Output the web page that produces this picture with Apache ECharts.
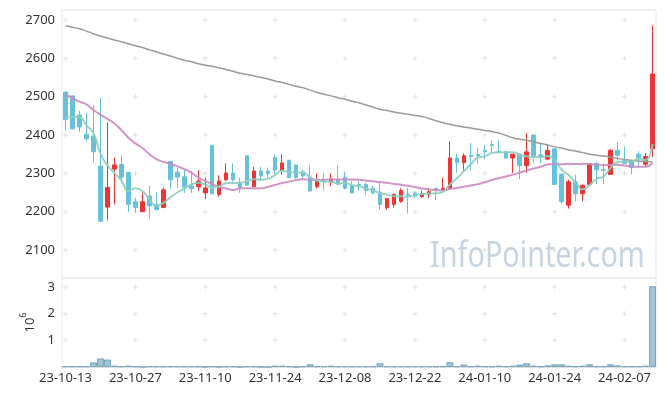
<!DOCTYPE html>
<html><head><meta charset="utf-8">
<script src="https://cdn.jsdelivr.net/npm/echarts@6/dist/echarts.min.js"></script>
<style>html,body{margin:0;padding:0;background:#fff}#c{width:665px;height:396px}</style>
</head><body><div id="c"></div>
<script>
const dates = ['23-10-13','23-10-16','23-10-17','23-10-18','23-10-19','23-10-20','23-10-23','23-10-24','23-10-25','23-10-26',
'23-10-27','23-10-30','23-10-31','23-11-01','23-11-02','23-11-03','23-11-06','23-11-07','23-11-08','23-11-09',
'23-11-10','23-11-13','23-11-14','23-11-15','23-11-16','23-11-17','23-11-20','23-11-21','23-11-22','23-11-23',
'23-11-24','23-11-27','23-11-28','23-11-29','23-11-30','23-12-01','23-12-04','23-12-05','23-12-06','23-12-07',
'23-12-08','23-12-11','23-12-12','23-12-13','23-12-14','23-12-15','23-12-18','23-12-19','23-12-20','23-12-21',
'23-12-22','23-12-26','23-12-27','23-12-28','24-01-02','24-01-03','24-01-04','24-01-05','24-01-08','24-01-09',
'24-01-10','24-01-11','24-01-12','24-01-15','24-01-16','24-01-17','24-01-18','24-01-19','24-01-22','24-01-23',
'24-01-24','24-01-25','24-01-26','24-01-29','24-01-30','24-01-31','24-02-01','24-02-02','24-02-05','24-02-06',
'24-02-07','24-02-08','24-02-13','24-02-14','24-02-15'];

const openVals = [2512,2502,2452,2402,2397,2319,2212,2311,2323,2302,
2226,2200,2241,2219,2211,2331,2303,2291,2267,2265,
2249,2373,2245,2283,2301,2276,2346,2265,2306,2306,
2341,2309,2334,2322,2304,2290,2265,2282,2278,2284,
2290,2269,2271,2271,2261,2251,2210,2219,2227,2246,
2249,2239,2245,2261,2255,2260,2340,2328,2347,2349,
2360,2375,2358,2356,2340,2350,2320,2400,2348,2337,
2364,2298,2217,2278,2247,2271,2325,2310,2297,2360,
2333,2333,2350,2324,2364];
const closeVals = [2440,2416,2421,2390,2356,2175,2263,2322,2290,2219,
2211,2226,2215,2205,2257,2283,2290,2264,2260,2280,
2262,2247,2280,2301,2283,2264,2269,2306,2293,2299,
2309,2327,2289,2289,2293,2254,2280,2278,2285,2271,
2261,2249,2267,2255,2249,2219,2234,2245,2255,2243,
2240,2247,2252,2255,2261,2340,2328,2346,2344,2346,
2357,2373,2356,2340,2350,2320,2356,2345,2344,2360,
2271,2226,2278,2247,2269,2325,2309,2308,2360,2347,
2326,2315,2341,2344,2559];
const lowVals = [2412,2414,2408,2384,2329,2173,2177,2219,2276,2199,
2199,2200,2182,2204,2209,2259,2263,2249,2249,2254,
2233,2245,2239,2280,2278,2249,2267,2264,2280,2289,
2297,2297,2288,2286,2284,2253,2260,2255,2267,2269,
2258,2249,2255,2245,2245,2205,2205,2211,2223,2196,
2236,2236,2236,2230,2255,2258,2302,2305,2308,2326,
2337,2352,2352,2338,2301,2285,2301,2327,2326,2336,
2270,2221,2208,2227,2227,2270,2272,2272,2296,2333,
2325,2297,2313,2318,2342];
const highVals = [2512,2502,2463,2457,2478,2496,2433,2342,2347,2303,
2237,2250,2268,2250,2263,2332,2314,2311,2306,2308,
2289,2373,2295,2326,2326,2289,2346,2317,2317,2315,
2350,2350,2334,2322,2310,2321,2300,2300,2300,2321,
2304,2280,2280,2276,2267,2276,2236,2247,2261,2261,
2254,2254,2261,2261,2289,2384,2351,2352,2379,2367,
2374,2386,2387,2360,2351,2351,2405,2401,2376,2375,
2365,2299,2283,2296,2271,2325,2331,2326,2364,2382,
2370,2333,2357,2353,2686];

const ma5 = [2443,2447,2446,2425,2404.6,2351.6,2321,2301.2,2281.2,2253.8,
2261,2253.6,2232.2,2215.2,2222.8,2237.2,2250,2259.8,2270.8,2275.4,
2271.2,2262.6,2265.8,2274,2274.6,2275,2279.4,2284.6,2283,2286.2,
2295.2,2306.8,2303.4,2302.6,2301.4,2290.4,2281,2278.8,2278,2273.6,
2275,2268.8,2266.6,2260.6,2256.2,2247.8,2244.8,2240.4,2240.4,2239.2,
2243.4,2246,2247.4,2247.4,2251,2271,2287.2,2306,2323.8,2340.8,
2344.2,2353.2,2355.2,2354.4,2355.2,2347.8,2344.4,2342.2,2343,2345,
2335.2,2309.2,2295.8,2276.4,2258.2,2269,2285.6,2291.6,2314.2,2329.8,
2330,2331.2,2337.8,2334.6,2377];
const ma20 = [2505,2496,2487,2480,2465,2453,2442,2430,2413,2393,
2378,2366,2350,2337,2330,2325,2318,2311,2302,2289.2,
2280.3,2271.8,2264.8,2260.3,2256.7,2261.1,2261.4,2260.6,2260.8,2264.8,
2269.7,2274.7,2278.4,2282.6,2284.4,2283,2282.5,2283.2,2284.4,2284,
2283.9,2284,2283.4,2281.1,2279.4,2277.1,2275.4,2272.3,2270.4,2267.6,
2264.2,2260.2,2258.3,2256.6,2255,2259.3,2261.7,2265.1,2268.1,2271.8,
2276.6,2282.8,2287.3,2291.5,2296.6,2301.6,2307.7,2312.7,2317.2,2323,
2324.6,2323.5,2324.8,2324.4,2324.8,2324.1,2323.1,2321.2,2322,2322.1,
2320.5,2317.6,2316.9,2317.1,2327.5];
const maLong = [2684,2681,2677,2671,2664,2658,2653,2648,2643,2638,
2633,2628,2622,2617,2611,2606,2600,2595,2591,2586,
2582,2579,2575,2571,2566,2561,2558,2554,2550,2546,
2541,2537,2532,2527,2523,2517,2511,2506,2502,2497,
2493,2488,2484,2478,2473,2467,2464,2460,2457,2454,
2451,2448,2443,2437,2432,2428,2424,2421,2418,2415,
2412,2409,2405,2399,2393,2389,2386,2382,2378,2374,
2369,2366,2361,2358,2354,2350,2347,2345,2342,2339,
2336,2334,2332,2331,2330];

const volumes = [30000,30000,30000,30000,170000,320000,280000,50000,30000,50000,
30000,3000,30000,30000,30000,30000,30000,30000,30000,30000,
3000,30000,3000,30000,30000,3000,30000,30000,3000,3000,
50000,50000,30000,3000,30000,100000,30000,30000,50000,30000,
30000,30000,30000,30000,30000,140000,30000,30000,30000,30000,
30000,30000,30000,30000,30000,180000,30000,90000,30000,50000,
30000,30000,50000,30000,50000,90000,140000,50000,30000,60000,
100000,100000,50000,30000,50000,100000,30000,30000,100000,60000,
30000,30000,30000,50000,3030000];

const priceTicks = [2100,2200,2300,2400,2500,2600,2700];
const volumeTicks = [1000000,2000000,3000000];
const labelStep = 10;

const xTickIdx = dates.map((d,i)=>i).filter(i => i % labelStep === 0);
const crossPath = 'path://M2,0H3V2H5V3H3V5H2V3H0V2H2Z';
const priceCross = [];
xTickIdx.forEach(i => priceTicks.forEach(t => priceCross.push([i, t])));
const volCross = [];
xTickIdx.forEach(i => volumeTicks.forEach(t => volCross.push([i, t])));

const FONT = 'Noto Sans';
const chart = echarts.init(document.getElementById('c'), null, {renderer:'canvas'});
chart.setOption({
  animation: false,
  backgroundColor: '#ffffff',
  grid: [
    {left: 62, right: 9, top: 10, height: 268, show: true, borderColor: '#e6e6e6', borderWidth: 1, backgroundColor: 'transparent'},
    {left: 62, right: 9, top: 278, height: 89, show: true, borderColor: '#e6e6e6', borderWidth: 1, backgroundColor: 'transparent'}
  ],
  xAxis: [
    {type: 'category', gridIndex: 0, data: dates, boundaryGap: true,
     axisLine: {show: false}, axisTick: {show: false}, axisLabel: {show: false}, splitLine: {show: false}},
    {type: 'category', gridIndex: 1, data: dates, boundaryGap: true,
     axisLine: {show: true, lineStyle: {color: '#e0e0e0'}}, axisTick: {show: false}, splitLine: {show: false},
     axisLabel: {interval: labelStep - 1, fontSize: 13, fontFamily: FONT, color: '#333', margin: 5}}
  ],
  yAxis: [
    {type: 'value', gridIndex: 0, min: 2027, max: 2726, scale: true,
     axisLine: {show: false}, axisTick: {show: false}, splitLine: {show: false},
     axisLabel: {fontSize: 13, fontFamily: FONT, color: '#333', margin: 7, showMinLabel: false, showMaxLabel: false,
       formatter: v => priceTicks.indexOf(v) >= 0 ? String(v) : ''}},
    {type: 'value', gridIndex: 1, min: 0, max: 3337000, interval: 1000000,
     axisLine: {show: false}, axisTick: {show: false}, splitLine: {show: false},
     axisLabel: {fontSize: 13, fontFamily: FONT, color: '#333', margin: 7, showMinLabel: false, showMaxLabel: false,
       formatter: v => volumeTicks.indexOf(v) >= 0 ? String(v / 1000000) : ''},
     name: '{b|10}{s|6}', nameLocation: 'middle', nameRotate: 90, nameGap: 23,
     nameTextStyle: {fontFamily: FONT, color: '#333', fontSize: 13,
       rich: {b: {fontSize: 13, fontFamily: FONT, color: '#333', lineHeight: 18, verticalAlign: 'bottom'},
              s: {fontSize: 9, fontFamily: FONT, color: '#333', lineHeight: 18, verticalAlign: 'top'}}}}
  ],
  graphic: [{
    type: 'text', left: 430, top: 239, scaleX: 0.8, silent: true, z: 0,
    style: {text: 'InfoPointer.com', font: '36px "Noto Sans"', fill: '#c6d4e1'}
  }],
  series: [
    {type: 'scatter', xAxisIndex: 0, yAxisIndex: 0, data: priceCross, symbol: crossPath, symbolSize: 5,
     itemStyle: {color: '#d9d9d9'}, silent: true, z: 1},
    {type: 'scatter', xAxisIndex: 1, yAxisIndex: 1, data: volCross, symbol: crossPath, symbolSize: 5,
     itemStyle: {color: '#d9d9d9'}, silent: true, z: 1},
    {type: 'candlestick', xAxisIndex: 0, yAxisIndex: 0, barWidth: 4,
     data: dates.map((d, i) => [openVals[i], closeVals[i], lowVals[i], highVals[i]]),
     itemStyle: {color: '#ee3535', color0: '#68c1db', borderColor: '#ee3535', borderColor0: '#68c1db', borderWidth: 1},
     z: 2},
    {type: 'line', xAxisIndex: 0, yAxisIndex: 0, data: maLong, symbol: 'none', smooth: true,
     lineStyle: {color: '#9a9a9a', width: 1.5}, z: 3},
    {type: 'line', xAxisIndex: 0, yAxisIndex: 0, data: ma20, symbol: 'none', smooth: true,
     lineStyle: {color: '#cc8ac2', width: 2, opacity: 0.9}, z: 3},
    {type: 'line', xAxisIndex: 0, yAxisIndex: 0, data: ma5, symbol: 'none', smooth: true,
     lineStyle: {color: '#8ccfbf', width: 2, opacity: 0.9}, z: 3},
    {type: 'bar', xAxisIndex: 1, yAxisIndex: 1, data: volumes, barCategoryGap: '0%',
     itemStyle: {color: '#9fc4d5', borderColor: '#78a5ba', borderWidth: 1}, z: 2}
  ]
});
</script>
</body></html>
